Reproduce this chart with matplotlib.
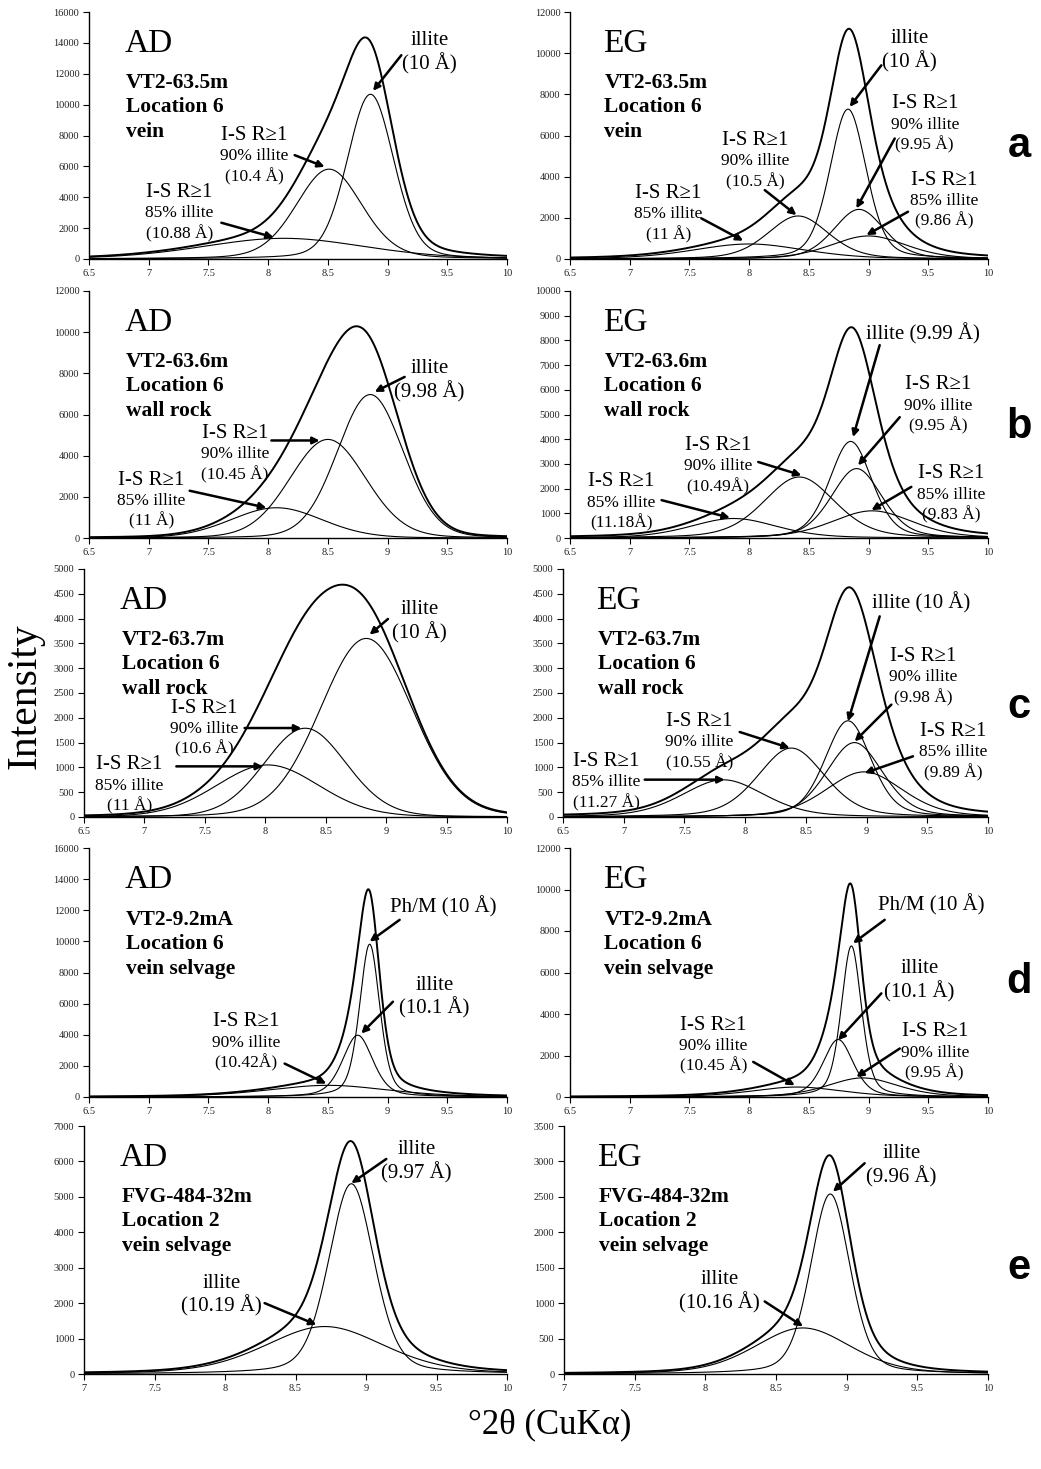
import numpy as np
import matplotlib
matplotlib.use('Agg')
import matplotlib.pyplot as plt
from matplotlib.ticker import MultipleLocator, FuncFormatter

# ---- data: one entry per panel, order a-AD, a-EG, b-AD, b-EG, ... e-EG ----
PANEL_TAGS = ['AD', 'EG'] * 5
SAMPLES = [
    ['VT2-63.5m', 'Location 6', 'vein'],
    ['VT2-63.5m', 'Location 6', 'vein'],
    ['VT2-63.6m', 'Location 6', 'wall rock'],
    ['VT2-63.6m', 'Location 6', 'wall rock'],
    ['VT2-63.7m', 'Location 6', 'wall rock'],
    ['VT2-63.7m', 'Location 6', 'wall rock'],
    ['VT2-9.2mA', 'Location 6', 'vein selvage'],
    ['VT2-9.2mA', 'Location 6', 'vein selvage'],
    ['FVG-484-32m', 'Location 2', 'vein selvage'],
    ['FVG-484-32m', 'Location 2', 'vein selvage'],
]
ROW_LETTERS = ['a', 'b', 'c', 'd', 'e']

X_MIN = [6.5] * 8 + [7.0] * 2
Y_MAX = [16000, 12000, 12000, 10000, 5000, 5000, 16000, 12000, 7000, 3500]
Y_STEP = [2000, 2000, 2000, 1000, 500, 500, 2000, 2000, 1000, 500]

# fitted peaks (°2θ centre, intensity, FWHM)
CENTERS = [
    [8.13, 8.51, 8.857],
    [8.00, 8.41, 8.828, 8.92, 9.00],
    [8.07, 8.50, 8.855],
    [7.87, 8.42, 8.85, 8.90, 9.03],
    [8.02, 8.33, 8.836],
    [7.82, 8.38, 8.847, 8.90, 8.98],
    [8.50, 8.75, 8.85],
    [8.40, 8.745, 8.856, 8.95],
    [8.707, 8.896],
    [8.69, 8.884],
]
HEIGHTS = [
    [1340, 5820, 10670],
    [730, 2090, 7280, 2410, 1120],
    [1470, 4790, 6970],
    [790, 2470, 3910, 2810, 1100],
    [1050, 1790, 3600],
    [750, 1390, 1940, 1500, 910],
    [750, 3970, 9820],
    [480, 2770, 7280, 920],
    [1340, 5370],
    [650, 2540],
]
FWHMS = [
    [1.6, 0.65, 0.46],
    [1.1, 0.6, 0.36, 0.5, 0.75],
    [0.9, 0.75, 0.65],
    [0.85, 0.7, 0.42, 0.5, 0.8],
    [1.0, 0.8, 0.9],
    [0.8, 0.65, 0.45, 0.55, 0.75],
    [1.2, 0.3, 0.2],
    [0.9, 0.3, 0.2, 0.7],
    [1.0, 0.38],
    [0.8, 0.33],
]
LORENTZ_FRAC = [0.2, 0.3, 0.1, 0.3, 0.1, 0.3, 0.4, 0.4, 0.3, 0.3]

# peak labels: (x, y of first line, lines)
LABELS = [
    [(9.35, 14160, ['illite', '(10 Å)']),
     (7.887, 8020, ['I-S R≥1', '90% illite', '(10.4 Å)']),
     (7.259, 4312, ['I-S R≥1', '85% illite', '(10.88 Å)'])],
    [(9.344, 10700, ['illite', '(10 Å)']),
     (9.47, 7550, ['I-S R≥1', '90% illite', '(9.95 Å)']),
     (9.637, 3832, ['I-S R≥1', '85% illite', '(9.86 Å)']),
     (8.048, 5773, ['I-S R≥1', '90% illite', '(10.5 Å)']),
     (7.323, 3185, ['I-S R≥1', '85% illite', '(11 Å)'])],
    [(9.352, 8230, ['illite', '(9.98 Å)']),
     (7.72, 5077, ['I-S R≥1', '90% illite', '(10.45 Å)']),
     (7.022, 2814, ['I-S R≥1', '85% illite', '(11 Å)'])],
    [(9.456, 8252, ['illite (9.99 Å)']),
     (9.58, 6200, ['I-S R≥1', '90% illite', '(9.95 Å)']),
     (9.693, 2607, ['I-S R≥1', '85% illite', '(9.83 Å)']),
     (7.741, 3750, ['I-S R≥1', '90% illite', '(10.49Å)']),
     (6.932, 2271, ['I-S R≥1', '85% illite', '(11.18Å)'])],
    [(9.277, 4180, ['illite', '(10 Å)']),
     (7.498, 2197, ['I-S R≥1', '90% illite', '(10.6 Å)']),
     (6.878, 1055, ['I-S R≥1', '85% illite', '(11 Å)'])],
    [(9.451, 4314, ['illite (10 Å)']),
     (9.465, 3239, ['I-S R≥1', '90% illite', '(9.98 Å)']),
     (9.712, 1727, ['I-S R≥1', '85% illite', '(9.89 Å)']),
     (7.625, 1929, ['I-S R≥1', '90% illite', '(10.55 Å)']),
     (6.857, 1122, ['I-S R≥1', '85% illite', '(11.27 Å)'])],
    [(9.464, 12244, ['Ph/M (10 Å)']),
     (9.394, 7196, ['illite', '(10.1 Å)']),
     (7.817, 4833, ['I-S R≥1', '90% illite', '(10.42Å)'])],
    [(9.526, 9263, ['Ph/M (10 Å)']),
     (9.428, 6202, ['illite', '(10.1 Å)']),
     (9.554, 3141, ['I-S R≥1', '90% illite', '(9.95 Å)']),
     (7.699, 3464, ['I-S R≥1', '90% illite', '(10.45 Å)'])],
    [(9.357, 6324, ['illite', '(9.97 Å)']),
     (7.974, 2565, ['illite', '(10.19 Å)'])],
    [(9.387, 3115, ['illite', '(9.96 Å)']),
     (8.101, 1330, ['illite', '(10.16 Å)'])],
]
# arrows: (tail, head) in data coordinates
ARROWS = [
    [((9.115, 13200), (8.878, 10890)), ((8.222, 6727), (8.473, 5972)),
     ((7.608, 2350), (8.046, 1401))],
    [((9.107, 9410), (8.842, 7390)), ((9.219, 5854), (8.898, 2458)),
     ((9.33, 2296), (8.982, 1164)), ((8.131, 3347), (8.396, 2134)),
     ((7.6, 1973), (7.95, 889))],
    [((9.143, 7826), (8.892, 7099)), ((8.027, 4738), (8.431, 4738)),
     ((7.343, 2296), (7.985, 1471))],
    [((9.093, 7809), (8.87, 4086)), ((9.261, 4892), (8.912, 2943)),
     ((9.358, 2070), (9.024, 1129)), ((8.076, 3078), (8.438, 2540)),
     ((7.267, 1532), (7.839, 820))],
    [((9.015, 3992), (8.863, 3676)), ((7.829, 1794), (8.298, 1794)),
     ((7.264, 1021), (7.981, 1021))],
    [((9.108, 4045), (8.847, 1929)), ((9.204, 2265), (8.902, 1525)),
     ((9.382, 1223), (8.984, 887)), ((7.955, 1714), (8.367, 1391)),
     ((7.173, 753), (7.831, 753))],
    [((9.101, 11384), (8.85, 9988)), ((9.045, 6122), (8.78, 4081)),
     ((8.138, 2148), (8.487, 859))],
    [((9.135, 8538), (8.87, 7411)), ((9.107, 4994), (8.745, 2739)),
     ((9.261, 2336), (8.898, 967)), ((8.034, 1692), (8.382, 564))],
    [((9.144, 6070), (8.896, 5384)), ((8.281, 2001), (8.648, 1391))],
    [((9.127, 2974), (8.903, 2574)), ((8.42, 1024), (8.691, 672))],
]

# ---- layout (pixels in a 1041 x 1469 figure) ----
FIG_W, FIG_H = 1041, 1469
ROW_Y = [(12, 259), (291, 538), (569, 817), (848, 1097), (1126, 1374)]
LEFT_X0 = [89, 89, 84, 89, 84]
RIGHT_X0 = [570, 570, 563, 570, 564]
LEFT_X1, RIGHT_X1 = 507, 988
LETTER_Y = [146, 427, 707, 982, 1268]

SERIF = ['Liberation Serif', 'DejaVu Serif']
SANS = ['Liberation Sans', 'DejaVu Sans']
PX = 72.0 / 100  # points per pixel


def pseudo_voigt(x, c, h, fwhm, eta):
    d2 = ((x - c) / (fwhm / 2.0)) ** 2
    return h * (eta / (1.0 + d2) + (1.0 - eta) * np.exp(-np.log(2) * d2))


def draw_panel(ax, i):
    x = np.linspace(X_MIN[i], 10, 600)
    comps = [pseudo_voigt(x, c, h, w, LORENTZ_FRAC[i])
             for c, h, w in zip(CENTERS[i], HEIGHTS[i], FWHMS[i])]
    for y in comps:
        ax.plot(x, y, color='black', lw=0.8)
    ax.plot(x, np.sum(comps, axis=0), color='black', lw=1.4)

    ax.set_xlim(X_MIN[i], 10)
    ax.set_ylim(0, Y_MAX[i])
    ax.xaxis.set_major_locator(MultipleLocator(0.5))
    ax.yaxis.set_major_locator(MultipleLocator(Y_STEP[i]))
    fmt = FuncFormatter(lambda v, _: f'{v:g}')
    ax.xaxis.set_major_formatter(fmt)
    ax.yaxis.set_major_formatter(fmt)
    for s in ['top', 'right']:
        ax.spines[s].set_visible(False)
    for s in ['left', 'bottom']:
        ax.spines[s].set_linewidth(1.0)
    ax.tick_params(direction='out', length=4, width=0.8, labelsize=7.5,
                   pad=3, labelcolor='#222222')
    for lab in ax.get_xticklabels() + ax.get_yticklabels():
        lab.set_family(SERIF)

    # tag and sample text
    x0 = 0.085 if i % 2 == 0 else 0.078
    ax.text(x0, 0.838, PANEL_TAGS[i], transform=ax.transAxes, fontsize=24,
            family=SERIF, va='baseline', ha='left')
    for line, yy in zip(SAMPLES[i], [0.692, 0.595, 0.494]):
        ax.text(x0 + 0.004, yy, line, transform=ax.transAxes, fontsize=15.5,
                family=SERIF, weight='bold', va='baseline', ha='left')

    # peak labels
    for lx, ly, lines in LABELS[i]:
        is_mixed = lines[0].startswith('I-S')
        offsets = [0, 21, 41] if is_mixed else [0, 23]
        for k, txt in enumerate(lines):
            size = 15 if (k == 0 or not is_mixed) else 12.5
            ax.annotate(txt, xy=(lx, ly), xytext=(0, -offsets[k] * PX),
                        textcoords='offset points', ha='center', va='center',
                        fontsize=size, family=SERIF)
    for tail, head in ARROWS[i]:
        ax.annotate('', xy=head, xytext=tail,
                    arrowprops=dict(arrowstyle='-|>', lw=1.8, color='black',
                                    mutation_scale=10, shrinkA=0, shrinkB=0))


fig = plt.figure(figsize=(FIG_W / 100, FIG_H / 100), dpi=100)
for r in range(5):
    y0, y1 = ROW_Y[r]
    for col, (xa, xb) in enumerate([(LEFT_X0[r], LEFT_X1), (RIGHT_X0[r], RIGHT_X1)]):
        ax = fig.add_axes([xa / FIG_W, 1 - y1 / FIG_H, (xb - xa) / FIG_W, (y1 - y0) / FIG_H])
        draw_panel(ax, r * 2 + col)
    fig.text(1019 / FIG_W, 1 - LETTER_Y[r] / FIG_H, ROW_LETTERS[r], fontsize=30,
             family=SANS, weight='bold', ha='center', va='center')

fig.text(25 / FIG_W, 1 - 696 / FIG_H, 'Intensity', rotation=90, fontsize=30,
         family=SERIF, ha='center', va='center')
fig.text(550 / FIG_W, 1 - 1425 / FIG_H, '°2θ (CuKα)', fontsize=25,
         family=SERIF, ha='center', va='center')

fig.savefig('out.png', dpi=100)
